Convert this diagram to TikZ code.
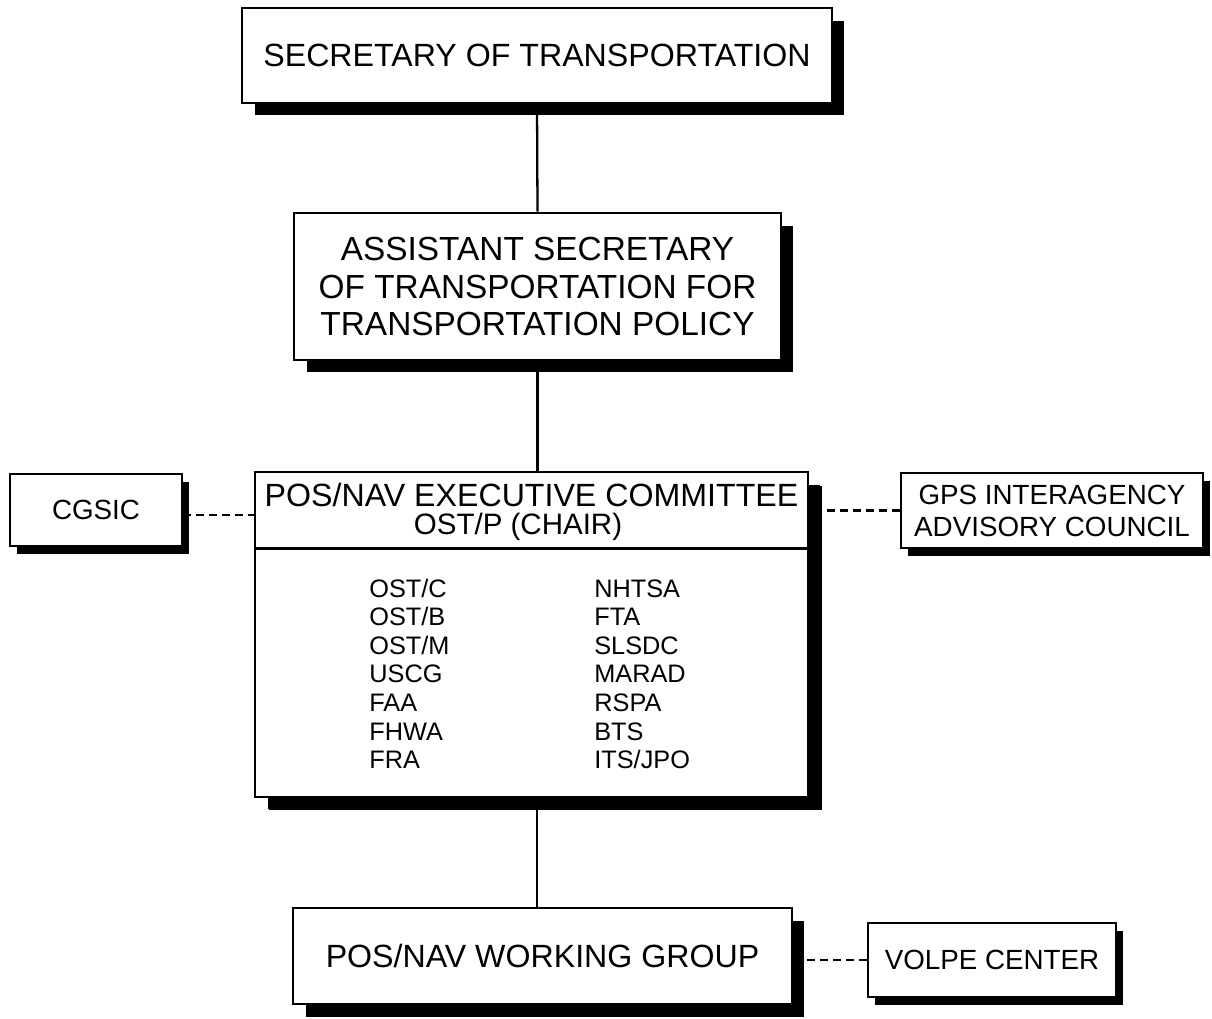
\documentclass[tikz,border=0pt]{standalone}
\usepackage{fontspec}
\setmainfont{Liberation Sans}
\usetikzlibrary{positioning}
\usetikzlibrary{shadows}
\usetikzlibrary{backgrounds}

\tikzset{
  bigbox/.style={draw, line width=1.5pt, fill=white, align=center,
    drop shadow={shadow xshift=0.25cm, shadow yshift=-0.25cm, fill=black, opacity=1}},
  smallbox/.style={draw, line width=1.5pt, fill=white, align=center,
    drop shadow={shadow xshift=0.14cm, shadow yshift=-0.15cm, fill=black, opacity=1}},
  member/.style={inner sep=0pt, anchor=base west, font=\fontsize{14.4}{16}\selectfont},
  solidline/.style={line width=1.3pt},
  dashline/.style={line width=1.3pt, dash pattern=on 0.16cm off 0.1cm}
}

\newcommand{\bigfont}{\fontsize{18.3}{21}\selectfont}
\newcommand{\boxfont}{\fontsize{15.8}{18.2}\selectfont}

\begin{document}
\begin{tikzpicture}[x=0.02cm, y=-0.02cm]
\useasboundingbox (0,0) rectangle (1212,1018);

% main chain
\node[bigbox, minimum width=11.8cm, minimum height=1.9cm, font=\bigfont] (sec) at (537,55.5) {SECRETARY OF TRANSPORTATION};
\node[bigbox, minimum width=9.74cm, minimum height=2.94cm, font=\fontsize{19}{21.2}\selectfont] (asst) at (537.5,286.5)
  {ASSISTANT SECRETARY\\OF TRANSPORTATION FOR\\TRANSPORTATION POLICY};
\node[bigbox, minimum width=11.06cm, minimum height=6.5cm,
  drop shadow={shadow xshift=0.28cm, shadow yshift=-0.27cm, fill=black, opacity=1}] (exec) at (531.5,634.5) {};
\node[bigbox, minimum width=9.98cm, minimum height=1.92cm, font=\bigfont] (wg) at (542.5,956) {POS/NAV WORKING GROUP};

% side boxes
\node[smallbox, minimum width=3.44cm, minimum height=1.44cm, font=\boxfont] (cgsic) at (96,510) {CGSIC};
\node[smallbox, minimum width=6.04cm, minimum height=1.5cm, font=\boxfont] (gps) at (1052,510.5)
  {GPS INTERAGENCY\\ADVISORY COUNCIL};
\node[smallbox, minimum width=4.96cm, minimum height=1.48cm, font=\boxfont] (volpe) at (992,960) {VOLPE CENTER};

% committee header
\draw[line width=1.5pt] ([yshift=-1.56cm]exec.north west) coordinate (divL) -- ([yshift=-1.56cm]exec.north east) coordinate (divR);
\node[inner sep=0pt, font=\bigfont] (execHead) at (531.5,495) {POS/NAV EXECUTIVE COMMITTEE};
\node[inner sep=0pt, font=\fontsize{16.8}{19}\selectfont] (execChair) at (518,527) {OST/P (CHAIR)};

% committee members
\foreach \name [count=\i] in {OST/C,OST/B,OST/M,USCG,FAA,FHWA,FRA}
  \node[member] (left\i) at (369, 568.4+28.6*\i) {\name};
\foreach \name [count=\i] in {NHTSA,FTA,SLSDC,MARAD,RSPA,BTS,ITS/JPO}
  \node[member] (right\i) at (594, 568.4+28.6*\i) {\name};

% connectors
\begin{scope}[on background layer]
\draw[solidline] (sec.south) -- (asst.north);
\draw[solidline] (asst.south) -- (asst.south |- exec.north);
\draw[solidline] (exec.south -| sec.south) -- (wg.north -| sec.south);
\draw[dashline] ([yshift=-0.1cm]cgsic.east) -- ([yshift=-0.1cm]cgsic.east -| exec.west);
\draw[dashline] (gps.west) -- (gps.west -| exec.east);
\draw[dashline] (volpe.west) -- (volpe.west -| wg.east);
\end{scope}

\end{tikzpicture}
\end{document}
